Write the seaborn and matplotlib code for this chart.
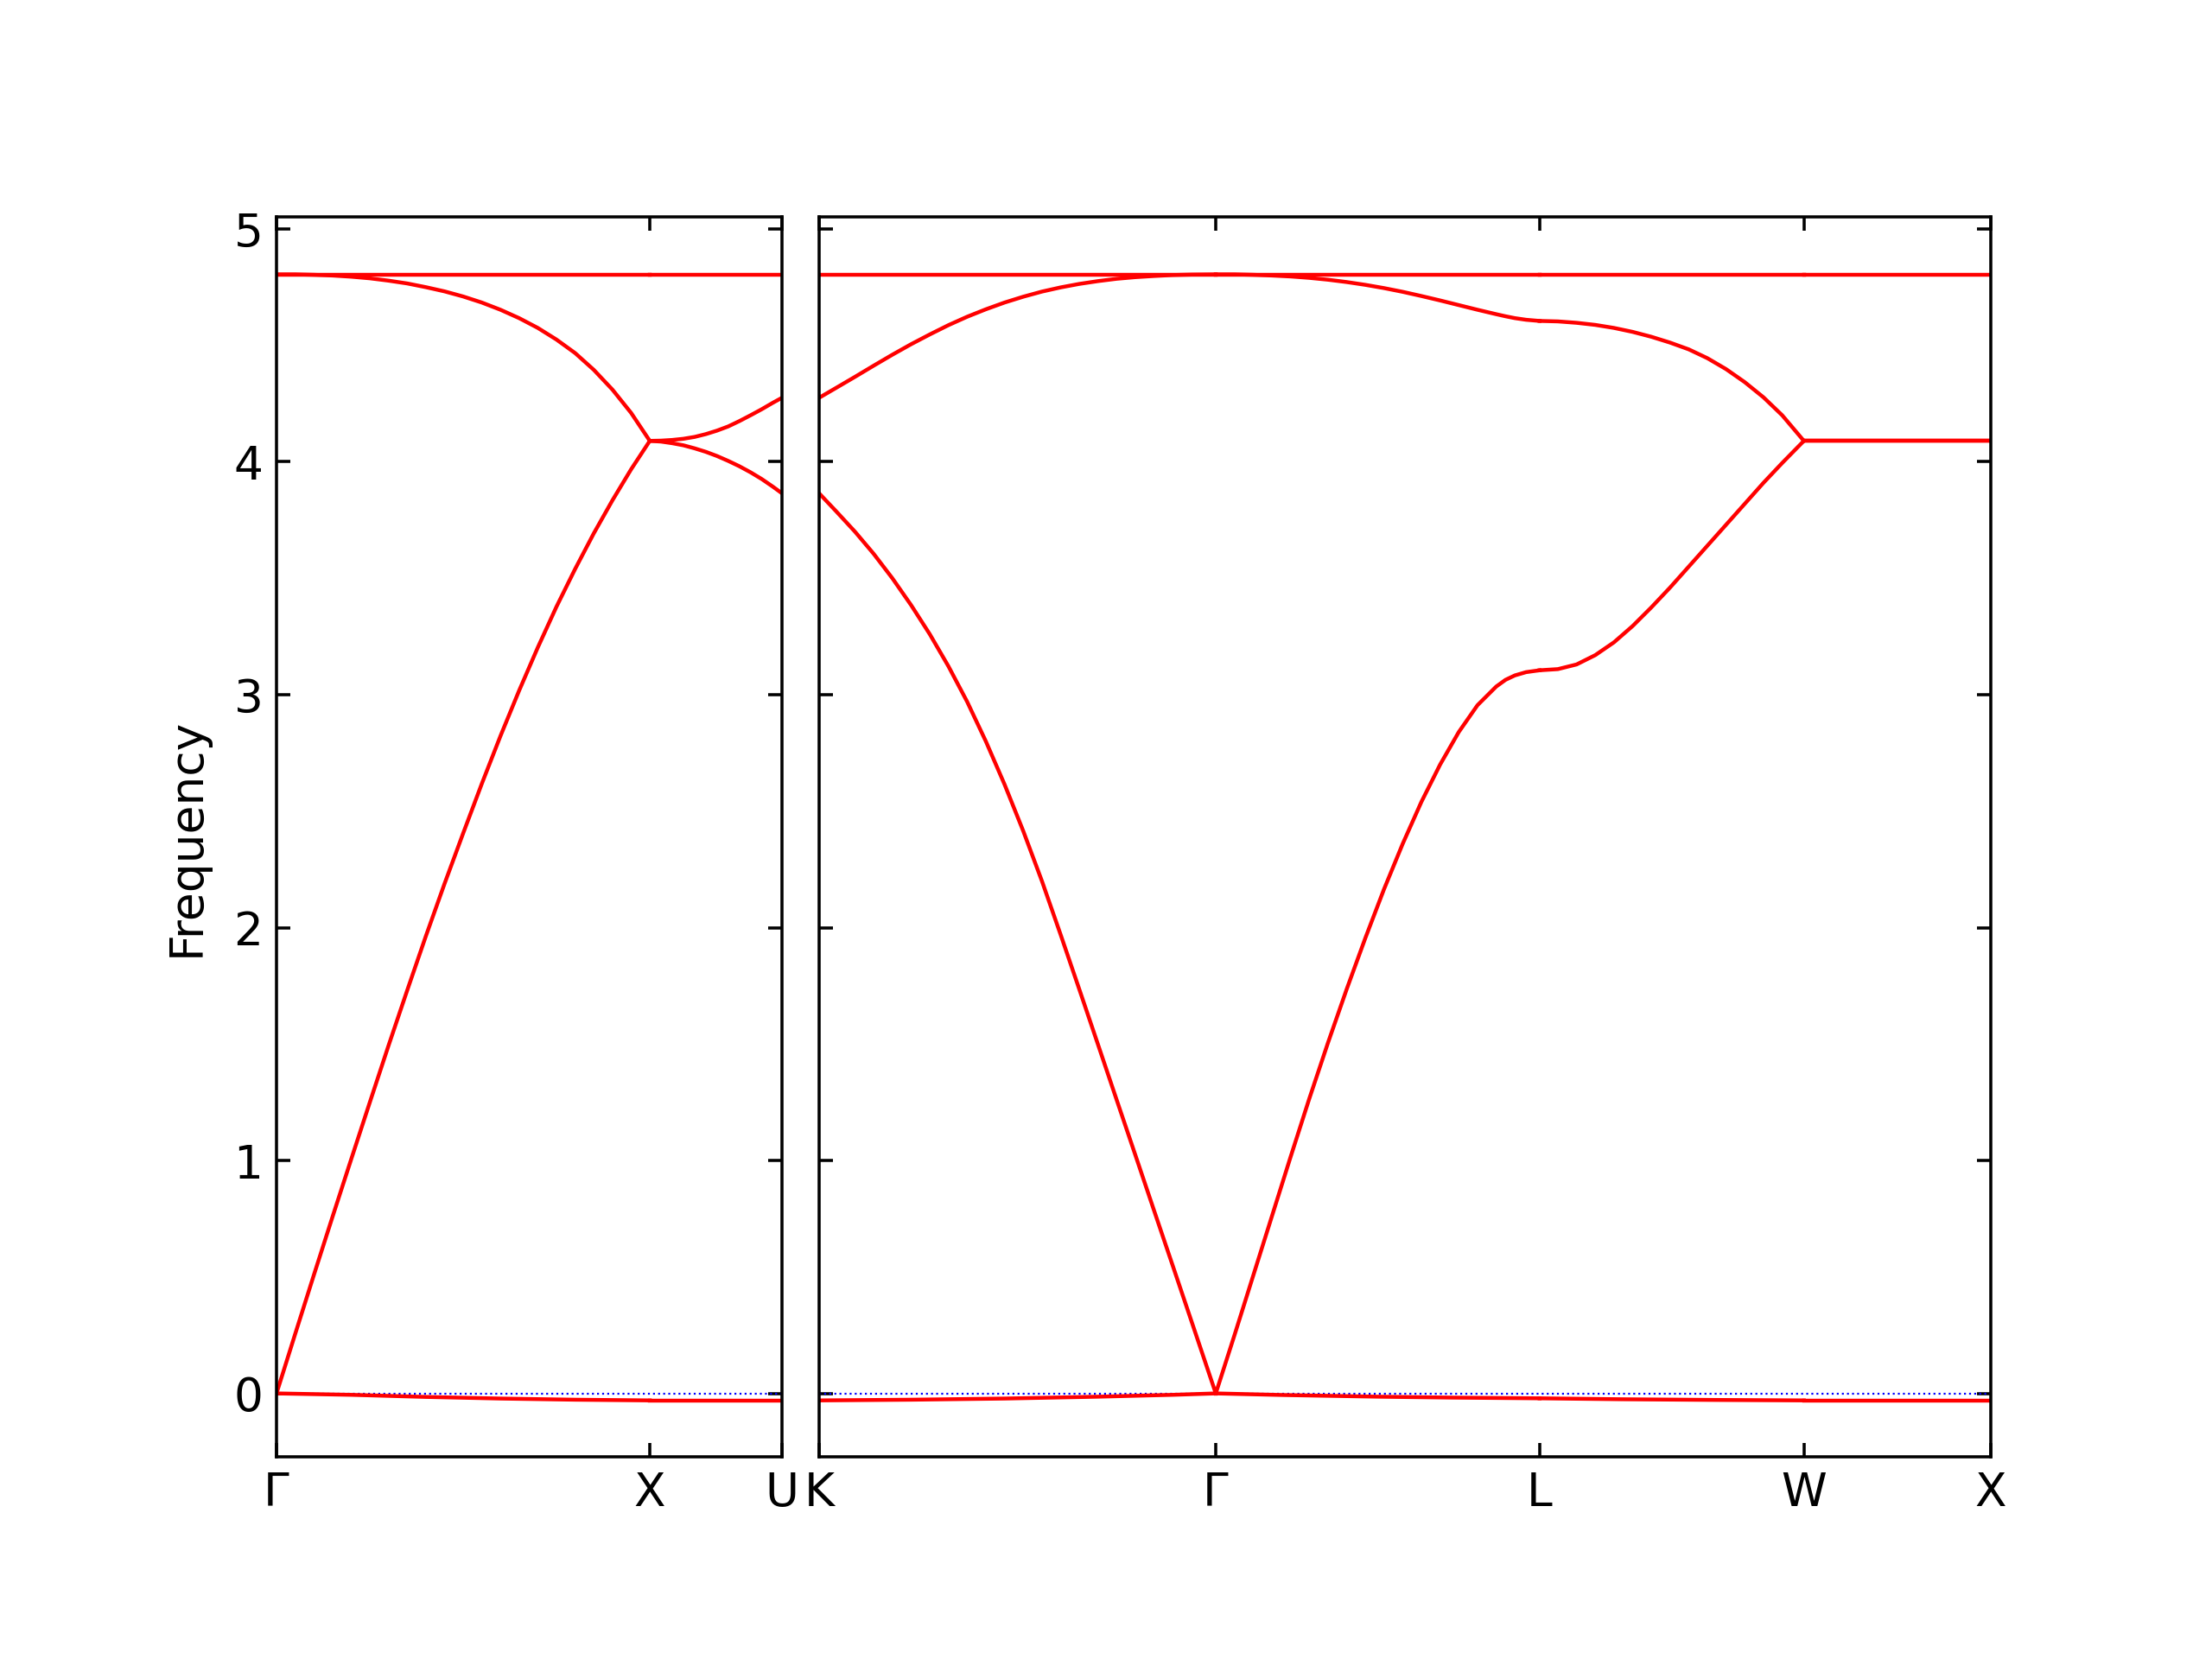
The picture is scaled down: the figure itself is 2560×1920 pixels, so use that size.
import matplotlib
matplotlib.use("Agg")
import matplotlib.pyplot as plt
import pandas as pd
import seaborn as sns

# FCC path, distances along q-path (2pi/a), frequencies
gx_d = [0.0, 0.05, 0.1, 0.15, 0.2, 0.25, 0.3, 0.35, 0.4, 0.45, 0.5,
        0.55, 0.6, 0.65, 0.7, 0.75, 0.8, 0.85, 0.9, 0.95, 1.0]
gx_acoustic = [0.0, 0.255, 0.508, 0.758, 1.005, 1.25, 1.493, 1.73, 1.963, 2.188, 2.405,
               2.618, 2.823, 3.018, 3.203, 3.378, 3.54, 3.693, 3.835, 3.968, 4.09]
gx_optical = [4.805, 4.805, 4.803, 4.800, 4.795, 4.788, 4.778, 4.766, 4.750, 4.732, 4.710,
              4.684, 4.653, 4.617, 4.575, 4.525, 4.467, 4.395, 4.310, 4.210, 4.09]
gx_low_d = [0.0, 0.2, 0.4, 0.6, 0.8, 1.0]
gx_low = [0.0, -0.006, -0.015, -0.022, -0.027, -0.03]

xu_d = [1.0, 1.03, 1.06, 1.09, 1.12, 1.15, 1.18, 1.21, 1.24, 1.27, 1.30, 1.33, 1.354]
xu_upper = [4.09, 4.091, 4.094, 4.099, 4.107, 4.119, 4.134, 4.152, 4.175, 4.200, 4.226, 4.254, 4.275]
xu_lower = [4.09, 4.087, 4.080, 4.071, 4.058, 4.043, 4.025, 4.004, 3.981, 3.955, 3.926, 3.893, 3.865]

kg_d = [1.354, 1.40, 1.45, 1.50, 1.55, 1.60, 1.65, 1.70, 1.75, 1.80, 1.85,
        1.90, 1.95, 2.00, 2.05, 2.10, 2.15, 2.20, 2.25, 2.30, 2.35, 2.415]
kg_upper = [4.275, 4.318, 4.365, 4.413, 4.460, 4.505, 4.547, 4.587, 4.623, 4.655, 4.684,
            4.709, 4.731, 4.749, 4.764, 4.776, 4.786, 4.793, 4.798, 4.802, 4.804, 4.805]
kg_lower = [3.865, 3.787, 3.70, 3.605, 3.50, 3.385, 3.26, 3.122, 2.97, 2.80, 2.615,
            2.415, 2.20, 1.97, 1.735, 1.498, 1.26, 1.023, 0.785, 0.548, 0.31, 0.0]
kg_low_d = [1.354, 1.6, 1.85, 2.1, 2.3, 2.415]
kg_low = [-0.03, -0.027, -0.022, -0.014, -0.006, 0.0]

gl_d = [2.415, 2.465, 2.515, 2.565, 2.615, 2.665, 2.715, 2.765, 2.815,
        2.865, 2.915, 2.965, 3.015, 3.065, 3.115, 3.165, 3.19, 3.215, 3.245, 3.281]
gl_upper = [4.805, 4.805, 4.803, 4.800, 4.796, 4.790, 4.782, 4.772, 4.760,
            4.746, 4.730, 4.712, 4.693, 4.673, 4.653, 4.634, 4.625, 4.617, 4.610, 4.605]
gl_lower = [0.0, 0.25, 0.505, 0.76, 1.015, 1.265, 1.505, 1.735, 1.955,
            2.165, 2.36, 2.54, 2.70, 2.84, 2.955, 3.035, 3.064, 3.083, 3.097, 3.105]
gl_low_d = [2.415, 2.6, 2.85, 3.05, 3.281]
gl_low = [0.0, -0.007, -0.014, -0.018, -0.021]

lw_d = [3.281, 3.33, 3.38, 3.43, 3.48, 3.53, 3.58, 3.63, 3.68, 3.73, 3.78, 3.83, 3.88, 3.93, 3.988]
lw_upper = [4.605, 4.603, 4.597, 4.588, 4.575, 4.558, 4.537, 4.512, 4.483, 4.445, 4.398,
            4.342, 4.277, 4.200, 4.09]
lw_lower = [3.105, 3.11, 3.13, 3.17, 3.225, 3.295, 3.375, 3.46, 3.55, 3.64, 3.73,
            3.82, 3.91, 3.995, 4.09]
lw_low_d = [3.281, 3.5, 3.75, 3.988]
lw_low = [-0.021, -0.025, -0.028, -0.03]

wx_d = [3.988, 4.488]
wx_mid = [4.09, 4.09]
wx_low = [-0.03, -0.03]

flat_band = 4.805
low_end = -0.03

left_ticks = [0.0, 1.0, 1.354]
left_labels = ["Γ", "X", "U"]
right_ticks = [1.354, 2.415, 3.281, 3.988, 4.488]
right_labels = ["K", "Γ", "L", "W", "X"]


def curve(d, freq, name):
    return pd.DataFrame({"distance": d, "frequency": freq, "curve": name})


def flat(d, value, name):
    return curve([d[0], d[-1]], [value, value], name)


left_df = pd.concat([
    curve(gx_d, gx_acoustic, "gx1"),
    curve(gx_d, gx_optical, "gx2"),
    curve(gx_low_d, gx_low, "gx3"),
    flat(gx_d, flat_band, "gx4"),
    curve(xu_d, xu_upper, "xu1"),
    curve(xu_d, xu_lower, "xu2"),
    flat(xu_d, low_end, "xu3"),
    flat(xu_d, flat_band, "xu4"),
])

right_df = pd.concat([
    curve(kg_d, kg_upper, "kg1"),
    curve(kg_d, kg_lower, "kg2"),
    curve(kg_low_d, kg_low, "kg3"),
    flat(kg_d, flat_band, "kg4"),
    curve(gl_d, gl_upper, "gl1"),
    curve(gl_d, gl_lower, "gl2"),
    curve(gl_low_d, gl_low, "gl3"),
    flat(gl_d, flat_band, "gl4"),
    curve(lw_d, lw_upper, "lw1"),
    curve(lw_d, lw_lower, "lw2"),
    curve(lw_low_d, lw_low, "lw3"),
    flat(lw_d, flat_band, "lw4"),
    curve(wx_d, wx_mid, "wx1"),
    curve(wx_d, wx_mid, "wx2"),
    curve(wx_d, wx_low, "wx3"),
    flat(wx_d, flat_band, "wx4"),
])

plt.rcParams["font.family"] = ["DejaVu Sans"]
fig = plt.figure(figsize=(8, 6), dpi=320)
ax_left = fig.add_axes([0.125, 0.1219, 0.2285, 0.7474])
ax_right = fig.add_axes([0.3703, 0.1219, 0.5297, 0.7474])

panels = [
    (ax_left, left_df, left_ticks, left_labels),
    (ax_right, right_df, right_ticks, right_labels),
]
for ax, df, ticks, labels in panels:
    ax.axhline(0, linestyle=":", linewidth=0.5, color="b")
    sns.lineplot(data=df, x="distance", y="frequency", units="curve",
                 estimator=None, sort=False, color="r", linewidth=1, ax=ax)
    ax.set_xlim(ticks[0], ticks[-1])
    ax.set_ylim(-0.272, 5.052)
    ax.set_xticks(ticks)
    ax.set_xticklabels(labels)
    ax.tick_params(direction="in", top=True, right=True, labelsize=12)
    ax.set_xlabel("")
    ax.set_ylabel("")

ax_left.set_ylabel("Frequency", fontsize=12, labelpad=6.5)
ax_right.tick_params(labelleft=False)

fig.savefig("out.png", dpi=320)
